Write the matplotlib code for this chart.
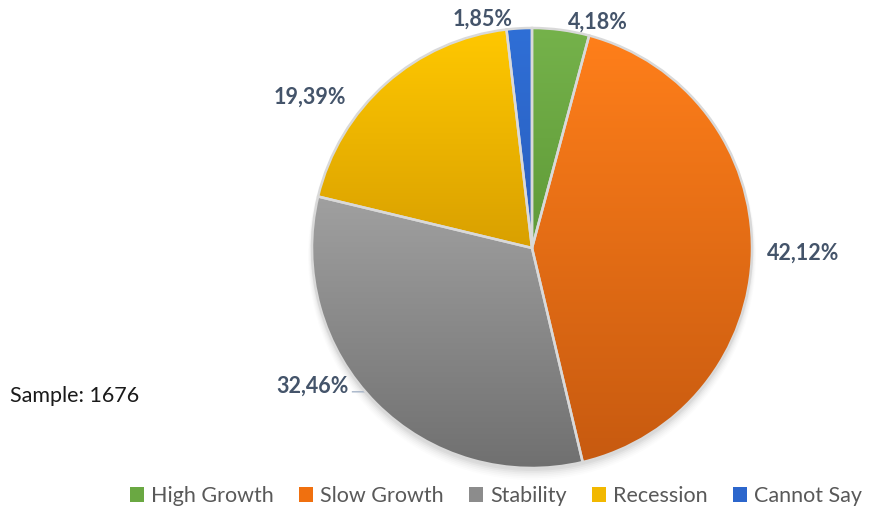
import numpy as np
import matplotlib
matplotlib.use('Agg')
import matplotlib.pyplot as plt
from matplotlib.colors import LinearSegmentedColormap
from matplotlib.patches import Patch, Circle

categories = ['High Growth', 'Slow Growth', 'Stability', 'Recession', 'Cannot Say']
shares = [4.18, 42.12, 32.46, 19.39, 1.85]
labels = ['4,18%', '42,12%', '32,46%', '19,39%', '1,85%']

# gradient top/bottom per slice
top_colors = ['#75B24B', '#FF7F1A', '#A0A0A0', '#FFC800', '#2F6FD6']
bot_colors = ['#5F9A37', '#C75A10', '#707070', '#D9A000', '#2A5EBE']
legend_colors = ['#6AA842', '#F0700F', '#8C8C8C', '#F2B800', '#2C66CC']

# label nudges in pixels (layout only)
lab_r = [235, 271, 259, 268, 234]
lab_nudge = [(35, -7), (0, -1), (-36, 45), (-44, -50), (-36, -5)]

plt.rcParams['font.family'] = ['Lato', 'DejaVu Sans']

W, H = 871, 512
fig = plt.figure(figsize=(W / 100, H / 100), dpi=100)
ax = fig.add_axes([0, 0, 1, 1])
ax.axis('off')

cx, cy, R = 532, 264, 220

# soft shadow
for i, a in enumerate([0.035, 0.03, 0.025, 0.02, 0.015, 0.01]):
    ax.add_patch(Circle((cx, cy - 3 - i), R + i * 0.8, color='black', alpha=a, lw=0, zorder=0))

wedges, _ = ax.pie(shares, center=(cx, cy), radius=R, startangle=90, counterclock=False,
                   wedgeprops=dict(edgecolor='#D9D9D9', linewidth=1.8),
                   frame=True)

grad = np.linspace(0, 1, 256).reshape(-1, 1)
for w, c1, c2 in zip(wedges, top_colors, bot_colors):
    w.set_facecolor('none')
    w.set_zorder(3)
    ext = w.get_path().get_extents()
    cmap = LinearSegmentedColormap.from_list('g', [c2, c1])
    im = ax.imshow(grad, cmap=cmap, extent=(ext.x0, ext.x1, ext.y0, ext.y1),
                   origin='lower', aspect='auto', zorder=2, interpolation='bilinear')
    im.set_clip_path(w)

ax.set_xlim(0, W)
ax.set_ylim(0, H)
ax.set_aspect('equal')
ax.axis('off')

# percentage labels
for w, lab, r, (nx, ny) in zip(wedges, labels, lab_r, lab_nudge):
    mid = np.deg2rad((w.theta1 + w.theta2) / 2)
    x = cx + r * np.cos(mid) + nx
    y = cy + r * np.sin(mid) + ny
    ax.text(x, y, lab, ha='center', va='center', fontsize=15.5, fontweight='bold',
            color='#44546A', zorder=5)
    if lab == '32,46%':
        sx, sy = x + 40, y - 6
        ang = np.arctan2(sy - cy, sx - cx) + np.deg2rad(1.5)
        ax.plot([sx, sx + 12, cx + R * np.cos(ang)], [sy, sy, cy + R * np.sin(ang)],
                color='#A6B4C8', lw=1, zorder=1)

ax.text(10, 512 - 396, 'Sample: 1676', ha='left', va='center', fontsize=15.5, color='#1A1A1A')

handles = [Patch(facecolor=c, edgecolor='none') for c in legend_colors]
leg = fig.legend(handles, categories, loc='center', bbox_to_anchor=(496 / W, 1 - 496 / H),
                 ncol=5, frameon=False, fontsize=15.5, handlelength=0.65, handleheight=0.65,
                 handletextpad=0.3, columnspacing=1.2)
for t in leg.get_texts():
    t.set_color('#595959')

fig.savefig('out.png', dpi=100)
